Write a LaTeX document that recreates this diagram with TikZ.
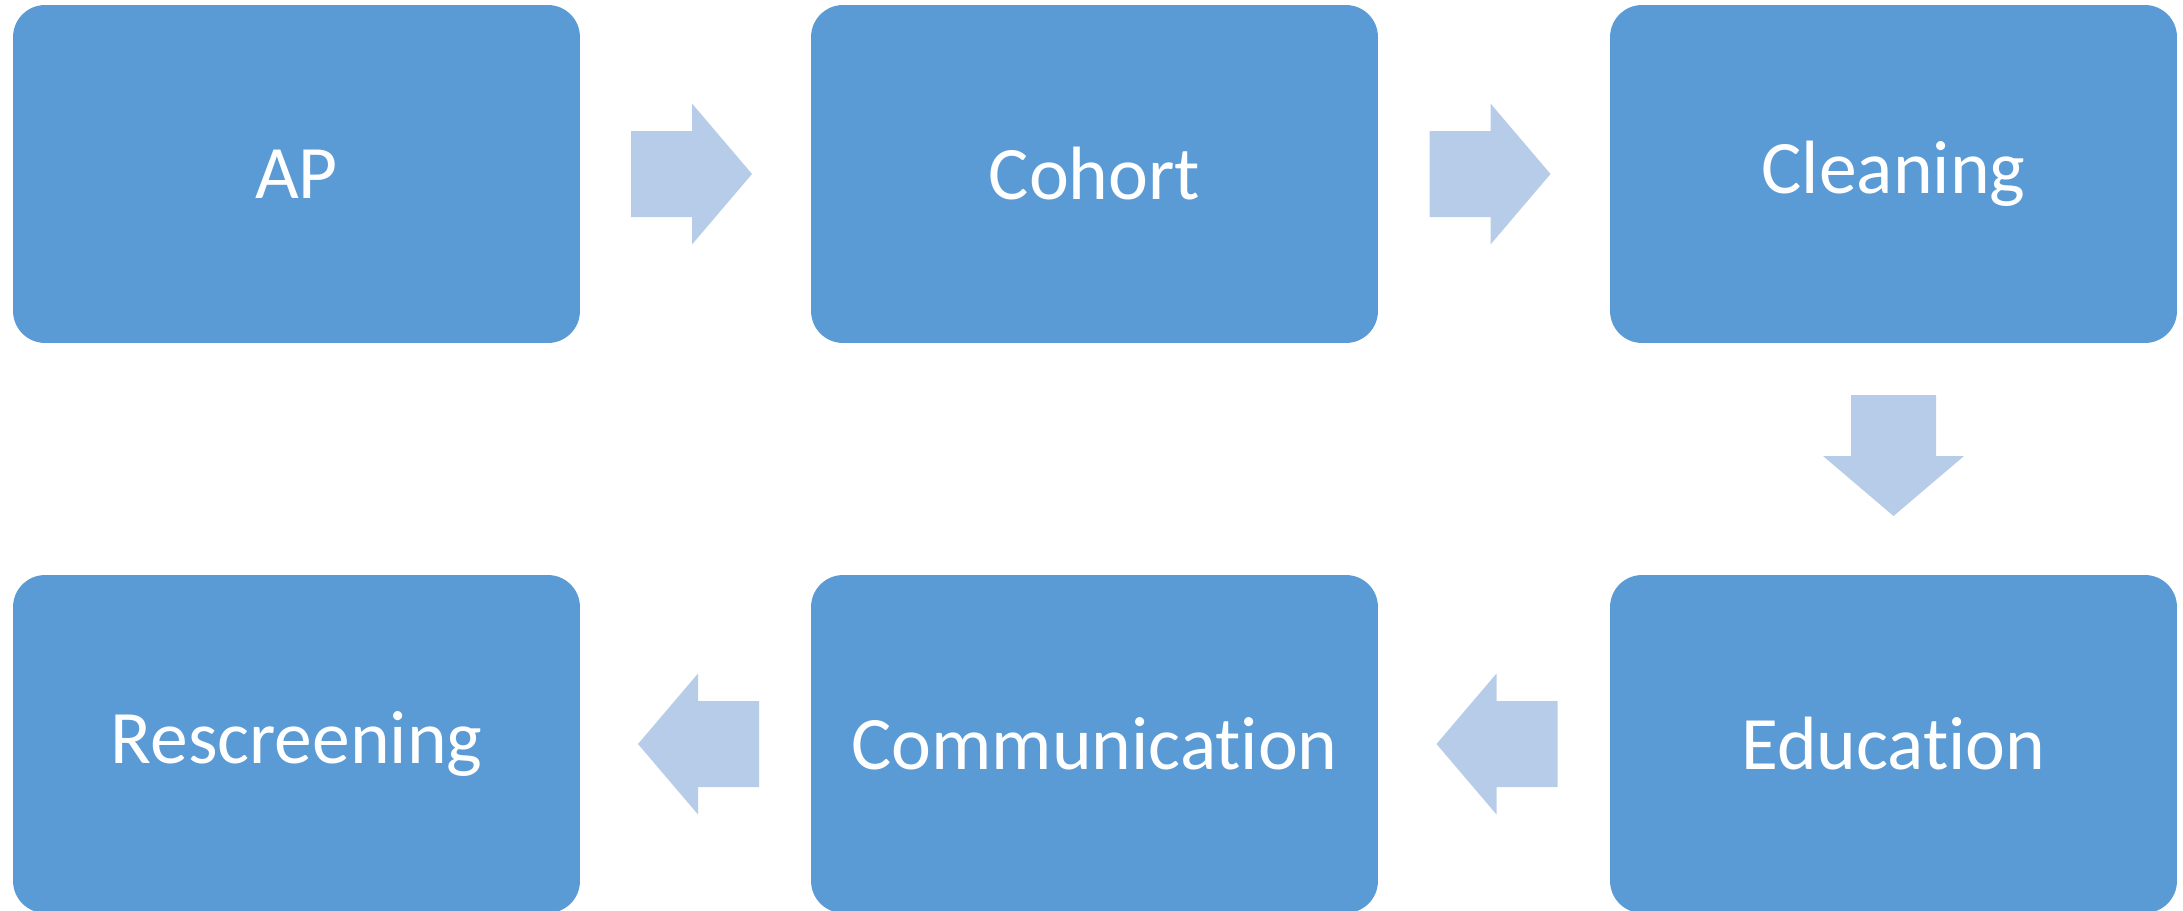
\documentclass[tikz,border=0pt]{standalone}
\usepackage{fontspec}
\setmainfont{Carlito}[Ligatures=NoCommon]
\usetikzlibrary{calc}

\definecolor{boxblue}{HTML}{5B9BD5}
\definecolor{arrowblue}{HTML}{B7CCE8}

\tikzset{
  stage/.style={fill=boxblue, rounded corners=0.64cm, minimum width=11.34cm,
    minimum height=6.76cm, inner sep=0pt, text=white,
    font=\fontsize{43}{50}\selectfont},
  flowarrow/.style={fill=arrowblue}
}

\begin{document}
\begin{tikzpicture}[x=0.02cm,y=-0.02cm]
 \useasboundingbox (0,0) rectangle (2183,910);
 % top row, left to right
 \node[stage] (ap) at (296.5,174) {AP};
 \node[stage] (cohort) at (1094.5,174) {Cohort};
 \node[stage] (cleaning) at (1893.5,174) {Cleaning};
 % bottom row, right to left
 \node[stage] (education) at (1893.5,744) {Education};
 \node[stage] (communication) at (1094.5,744) {Communication};
 \node[stage] (rescreening) at (296.5,744) {Rescreening};
 % block arrows between the stages
 \fill[flowarrow] ($(ap.east)!.5!(cohort.west)$) ++(-64.5,-43) -- ++(61,0) -- ++(0,-27.5)
   -- ++(60,70.5) -- ++(-60,70.5) -- ++(0,-27.5) -- ++(-61,0) -- cycle;
 \fill[flowarrow] ($(cohort.east)!.5!(cleaning.west)$) ++(-64.5,-43) -- ++(61,0) -- ++(0,-27.5)
   -- ++(60,70.5) -- ++(-60,70.5) -- ++(0,-27.5) -- ++(-61,0) -- cycle;
 \fill[flowarrow] ($(cleaning.south)!.5!(education.north)$) ++(-42.5,-64) -- ++(0,61) -- ++(-28,0)
   -- ++(70.5,60) -- ++(70.5,-60) -- ++(-28,0) -- ++(0,-61) -- cycle;
 \fill[flowarrow] ($(communication.east)!.5!(education.west)$) ++(63.5,-43) -- ++(-61,0) -- ++(0,-27.5)
   -- ++(-60,70.5) -- ++(60,70.5) -- ++(0,-27.5) -- ++(61,0) -- cycle;
 \fill[flowarrow] ($(rescreening.east)!.5!(communication.west)$) ++(63.5,-43) -- ++(-61,0) -- ++(0,-27.5)
   -- ++(-60,70.5) -- ++(60,70.5) -- ++(0,-27.5) -- ++(61,0) -- cycle;
\end{tikzpicture}
\end{document}
